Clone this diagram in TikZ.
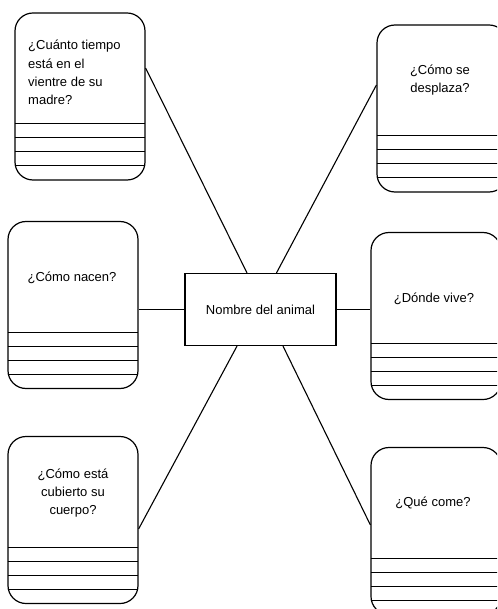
\documentclass[tikz,border=0pt]{standalone}
\usepackage{fontspec}
\setmainfont{Liberation Sans}
\begin{document}
\begin{tikzpicture}[x=1pt,y=-1pt,
  qbox/.style={draw, line width=1.2pt, rounded corners=18pt, minimum width=130pt, minimum height=167pt, inner sep=0pt},
  centerbox/.style={draw, line width=1.2pt, minimum width=151pt, minimum height=72pt, inner sep=0pt, font=\fontsize{13}{16}\selectfont},
  qtext/.style={font=\fontsize{13}{18.3}\selectfont, inner sep=0pt, align=center},
  conn/.style={line width=1.1pt},
  rule/.style={line width=1.1pt}]
\clip (0,0) rectangle (497,609);
\fill[white] (0,0) rectangle (497,609);
% question boxes
\node[qbox] (b1) at (80,96.5) {};
\node[qbox] (b2) at (442,108.5) {};
\node[qbox] (b3) at (73,305) {};
\node[qbox] (b4) at (436,316) {};
\node[qbox] (b5) at (73,520) {};
\node[qbox] (b6) at (436,531) {};
% writing lines
\foreach \b in {b1,b2,b3,b4,b5,b6}{
  \foreach \o in {57,43,29,15}{
    \draw[rule] ([yshift=\o pt,xshift=0.2pt]\b.south west) -- ([yshift=\o pt,xshift=-0.2pt]\b.south east);
  }
}
% texts
\node[qtext, align=left, anchor=west] (t1) at (28,72.5) {¿Cuánto tiempo\\está en el\\vientre de su\\madre?};
\node[qtext] (t2) at (440,80) {¿Cómo se\\desplaza?};
\node[qtext] (t3) at (72,278) {¿Cómo nacen?};
\node[qtext] (t4) at (434,299) {¿Dónde vive?};
\node[qtext] (t5) at (73,493) {¿Cómo está\\cubierto su\\cuerpo?};
\node[qtext] (t6) at (433,503) {¿Qué come?};
% center
\node[centerbox] (c) at (260.5,309.5) {Nombre del animal};
% connectors
\draw[conn] ([yshift=28.5pt]b1.east) -- ([xshift=-13.5pt]c.north);
\draw[conn] ([yshift=23.5pt]b2.west) -- ([xshift=16pt]c.north);
\draw[conn] (c.west) -- (c.west -| b3.east);
\draw[conn] (c.east) -- (c.east -| b4.west);
\draw[conn] ([yshift=-9pt]b5.east) -- ([xshift=-23.5pt]c.south);
\draw[conn] ([yshift=6pt]b6.west) -- ([xshift=22.5pt]c.south);
\end{tikzpicture}
\end{document}
